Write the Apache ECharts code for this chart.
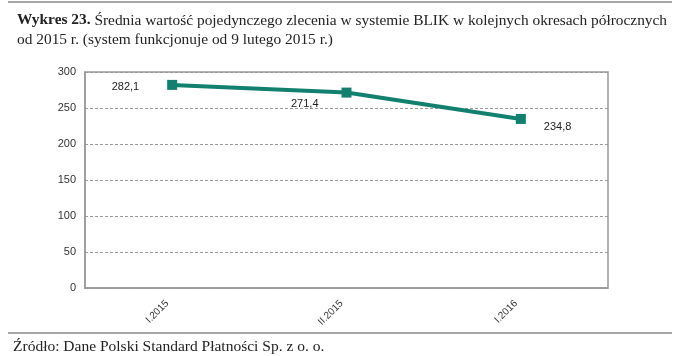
<!DOCTYPE html>
<html><head><meta charset="utf-8">
<script src="https://cdn.jsdelivr.net/npm/echarts@6/dist/echarts.min.js"></script>
<style>html,body{margin:0;padding:0;background:#fff}#c{width:680px;height:356px}</style>
</head><body><div id="c"></div>
<script>
const categories = ['I.2015', 'II.2015', 'I.2016'];
const values = [282.1, 271.4, 234.8];
const valueLabels = ['282,1', '271,4', '234,8'];
const yTicks = [0, 50, 100, 150, 200, 250, 300];

const chart = echarts.init(document.getElementById('c'));
const serif = '"Liberation Serif", serif';
const sans = 'Arial, "Liberation Sans", sans-serif';
const labelPos = [
  {position: 'left', distance: 28, offset: [0, 2]},
  {position: 'left', distance: 23, offset: [0, 11]},
  {position: 'right', distance: 18, offset: [0, 8]}
];
chart.setOption({
  animation: false,
  title: {
    left: 12, top: 6,
    text: '{b|Wykres 23.} Średnia wartość pojedynczego zlecenia w systemie BLIK w kolejnych okresach półrocznych\nod 2015 r. (system funkcjonuje od 9 lutego 2015 r.)',
    textStyle: {fontFamily: serif, fontSize: 15.4, fontWeight: 'normal', color: '#222', lineHeight: 19,
      rich: {b: {fontFamily: serif, fontSize: 15.4, fontWeight: 'bold', color: '#222', lineHeight: 19}}}
  },
  graphic: [
    {type: 'line', shape: {x1: 8, y1: 2, x2: 672, y2: 2}, style: {stroke: '#888', lineWidth: 1.5}},
    {type: 'line', shape: {x1: 8, y1: 333, x2: 672, y2: 333}, style: {stroke: '#888', lineWidth: 1.5}},
    {type: 'text', left: 13, top: 339, style: {text: 'Źródło: Dane Polski Standard Płatności Sp. z o. o.', font: '15.5px ' + serif, fill: '#222'}}
  ],
  grid: {left: 85, right: 72, top: 72, bottom: 68, show: true, borderColor: '#999', borderWidth: 1.5},
  xAxis: {
    type: 'category', data: categories, boundaryGap: true,
    axisLine: {show: true, lineStyle: {color: '#999', width: 1.5}},
    axisTick: {show: false},
    axisLabel: {rotate: 45, color: '#333', fontFamily: sans, fontSize: 10, margin: 9, padding: [0, 7, 0, 0]}
  },
  yAxis: {
    type: 'value', min: 0, max: 300, interval: 50,
    axisLine: {show: true, lineStyle: {color: '#999', width: 1.5}},
    axisTick: {show: false},
    axisLabel: {color: '#333', fontFamily: sans, fontSize: 11, margin: 9,
      formatter: v => yTicks.includes(v) ? String(v) : ''},
    splitLine: {show: true, lineStyle: {color: '#999', type: [3, 2], width: 1}}
  },
  series: [{
    type: 'line',
    data: values.map((v, i) => ({value: v, label: Object.assign({show: true, formatter: valueLabels[i]}, labelPos[i])})),
    symbol: 'rect', symbolSize: 10,
    lineStyle: {color: '#11806f', width: 4},
    itemStyle: {color: '#11806f'},
    label: {color: '#222', fontFamily: sans, fontSize: 11}
  }]
});
</script></body></html>
